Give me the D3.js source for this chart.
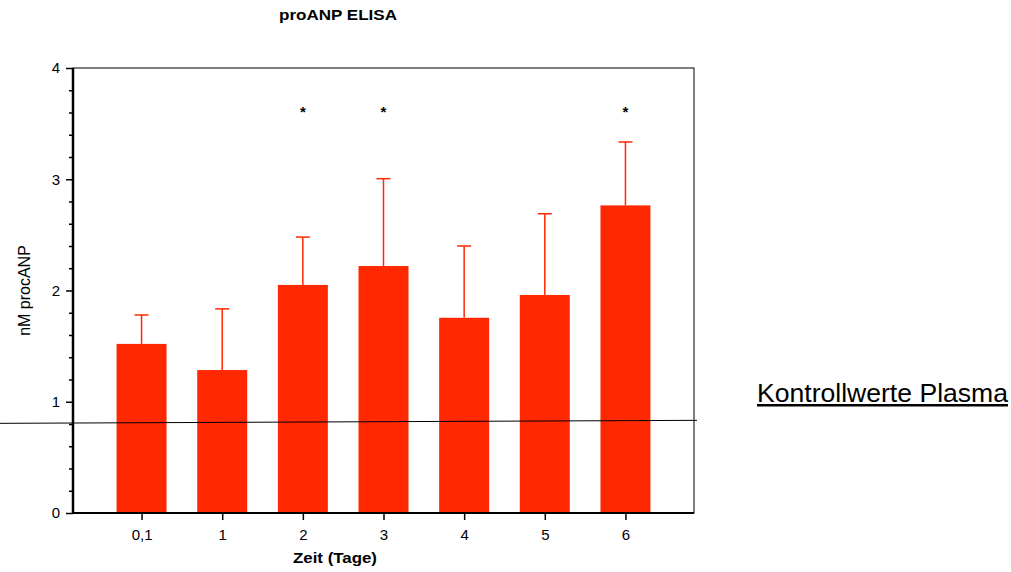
<!DOCTYPE html>
<html>
<head>
<meta charset="utf-8">
<script src="https://cdn.jsdelivr.net/npm/d3@7"></script>
<style>
  body { margin: 0; background: #fff; }
  text { font-family: "Liberation Sans", Arial, sans-serif; }
</style>
</head>
<body>
<div class="plot"></div>
<script>
// data
var days = ['0,1', '1', '2', '3', '4', '5', '6'];
var means = [1.52, 1.285, 2.05, 2.22, 1.755, 1.96, 2.765];
var errTop = [1.78, 1.835, 2.48, 3.005, 2.40, 2.69, 3.335];
var signif = ['2', '3', '6'];
var yTicks = [0, 1, 2, 3, 4];
var control = [0.806, 0.833]; // Kontrollwerte Plasma, left end / right end

var W = 1011, H = 572;
var m = {t: 68, r: 317, b: 59, l: 73},
    w = W - m.l - m.r,
    h = H - m.t - m.b;
var red = '#ff2800';

var svg = d3.select('.plot').append('svg')
    .attr('width', W)
    .attr('height', H);

var g = svg.append('g')
    .attr('transform', 'translate(' + m.l + ',' + m.t + ')');

var x = d3.scalePoint().domain(days).range([0, w]).padding(0.85);
var y = d3.scaleLinear().domain([0, 4]).range([h, 0]);
var bw = 50;

// frame (top/right thin)
g.append('rect')
    .attr('x', 0).attr('y', 0)
    .attr('width', w).attr('height', h)
    .attr('fill', 'none')
    .attr('stroke', '#000')
    .attr('stroke-width', 1);

// bars
g.selectAll('.bar')
    .data(days)
    .enter()
    .append('rect')
    .attr('class', 'bar')
    .attr('x', function(d){ return x(d) - bw/2; })
    .attr('y', function(d, i){ return y(means[i]); })
    .attr('width', bw)
    .attr('height', function(d, i){ return h - y(means[i]); })
    .attr('fill', red);

// error bars
var eb = g.selectAll('.err')
    .data(days)
    .enter()
    .append('g')
    .attr('class', 'err')
    .attr('stroke', red)
    .attr('stroke-width', 1.5);
eb.append('line')
    .attr('x1', function(d){ return x(d); })
    .attr('x2', function(d){ return x(d); })
    .attr('y1', function(d, i){ return y(means[i]); })
    .attr('y2', function(d, i){ return y(errTop[i]); });
eb.append('line')
    .attr('x1', function(d){ return x(d) - 7; })
    .attr('x2', function(d){ return x(d) + 7; })
    .attr('y1', function(d, i){ return y(errTop[i]); })
    .attr('y2', function(d, i){ return y(errTop[i]); });

// asterisks
g.selectAll('.star')
    .data(signif)
    .enter()
    .append('text')
    .attr('x', function(d){ return x(d); })
    .attr('y', 49)
    .attr('text-anchor', 'middle')
    .attr('font-size', 15)
    .attr('font-weight', 'bold')
    .text('*');

// control line, runs off to the left edge of the page
g.append('line')
    .attr('x1', -m.l)
    .attr('x2', w + 3)
    .attr('y1', y(control[0]))
    .attr('y2', y(control[1]))
    .attr('stroke', '#000')
    .attr('stroke-width', 1);

// y axis
var yAxis = d3.axisLeft(y).tickValues(yTicks).tickSize(7).tickPadding(6).tickFormat(d3.format('d'));
var ya = g.append('g').call(yAxis);
ya.selectAll('.tick line').attr('stroke-width', 1.5);
ya.select('.domain').remove();
g.append('g')
    .call(d3.axisLeft(y).tickValues(d3.range(0, 4.01, 0.2).filter(function(v){ return Math.abs(v - Math.round(v)) > 0.01; })).tickSize(4).tickFormat(''))
    .call(function(s){ s.select('.domain').remove(); s.selectAll('.tick line').attr('stroke-width', 1.5); });
g.append('line')
    .attr('x1', 0).attr('x2', 0).attr('y1', 0).attr('y2', h + 1)
    .attr('stroke', '#000').attr('stroke-width', 2.5);
ya.selectAll('text').attr('font-size', 15).attr('fill', '#000');

// x axis
var xa = g.append('g')
    .attr('transform', 'translate(0,' + h + ')')
    .call(d3.axisBottom(x).tickSize(7).tickPadding(9));
xa.select('.domain').remove();
xa.selectAll('.tick line').attr('stroke-width', 1.5);
xa.selectAll('text').attr('font-size', 15).attr('fill', '#000');
g.append('line')
    .attr('x1', -1).attr('x2', w).attr('y1', h).attr('y2', h)
    .attr('stroke', '#000').attr('stroke-width', 2);

// labels
svg.append('text')
    .attr('x', 279).attr('y', 20)
    .attr('font-size', 14)
    .attr('font-weight', 'bold')
    .attr('textLength', 118)
    .attr('lengthAdjust', 'spacingAndGlyphs')
    .text('proANP ELISA');

svg.append('text')
    .attr('x', 293).attr('y', 563)
    .attr('font-size', 15)
    .attr('font-weight', 'bold')
    .attr('textLength', 84)
    .attr('lengthAdjust', 'spacingAndGlyphs')
    .text('Zeit (Tage)');

svg.append('text')
    .attr('transform', 'translate(30,' + (m.t + y(2)) + ') rotate(-90)')
    .attr('text-anchor', 'middle')
    .attr('font-size', 16)
    .text('nM procANP');

svg.append('text')
    .attr('x', 757).attr('y', 402)
    .attr('font-size', 25)
    .attr('text-decoration', 'underline')
    .attr('textLength', 251)
    .attr('lengthAdjust', 'spacingAndGlyphs')
    .text('Kontrollwerte Plasma');
</script>
</body>
</html>
